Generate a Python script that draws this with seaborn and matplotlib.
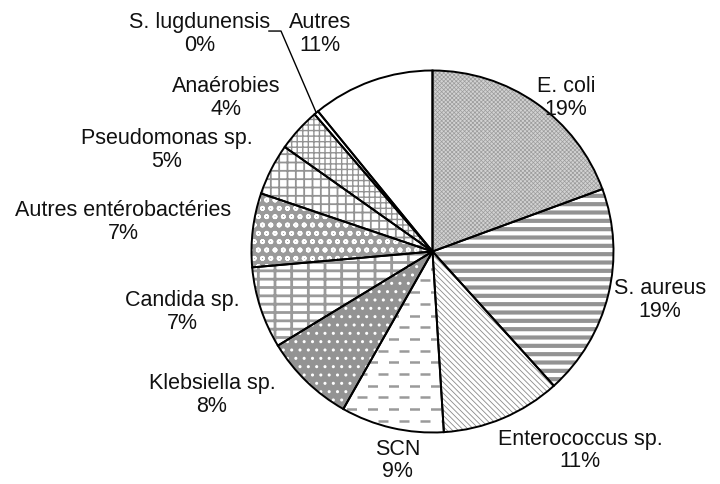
import numpy as np
import matplotlib.pyplot as plt
import seaborn as sns

# Data (percent of isolates)
categories = [
    "E. coli", "S. aureus", "Enterococcus sp.", "SCN", "Klebsiella sp.",
    "Candida sp.", "Autres entérobactéries", "Pseudomonas sp.", "Anaérobies",
    "S. lugdunensis", "Autres",
]
shares = [19.4, 18.9, 10.7, 9.2, 8.1, 7.3, 6.6, 4.6, 3.9, 0.4, 10.9]

# Styling (fill, hatch, hatch colour, hatch width)
face_colors = ["#d2d2d2", "white", "white", "white", "#939393", "white",
               "#9a9a9a", "white", "white", "white", "white"]
hatch_styles = ["xxxxxxxx", "--", "\\\\\\\\\\\\", "", "..", "--|",
                "oo", "++", "+++", "", ""]
hatch_colors = ["#9c9c9c", "#939393", "#8a8a8a", "#9a9a9a", "white", "#9a9a9a",
                "white", "#939393", "#939393", "#939393", "#939393"]
hatch_widths = [0.5, 3.0, 0.6, 1.5, 1.0, 2.0, 1.2, 1.3, 1.0, 1.0, 1.0]

# label centres in pie-radius units
label_pos = [(0.738, 0.853), (1.257, -0.262), (0.815, -1.095), (-0.191, -1.150),
             (-1.218, -0.787), (-1.384, -0.329), (-1.71, 0.169), (-1.467, 0.566),
             (-1.141, 0.854), (-1.285, 1.207), (-0.622, 1.207)]

sns.set_theme(style="white")
plt.rcParams["font.family"] = ["Liberation Sans", "DejaVu Sans"]

fig = plt.figure(figsize=(7.2, 4.85), dpi=100)
ax = fig.add_axes([0, 0, 1, 1])

# --- hatched fills ---
wedges, _ = ax.pie(shares, startangle=90, counterclock=False, colors=face_colors,
                   wedgeprops=dict(linewidth=0))
for w, h, hc, hw in zip(wedges, hatch_styles, hatch_colors, hatch_widths):
    w.set_hatch(h)
    w.set_edgecolor(hc)
    w.set_linewidth(0)
    if hasattr(w, "set_hatch_linewidth"):
        w.set_hatch_linewidth(hw)

# dashed texture for SCN (staggered grey dashes)
scn = wedges[categories.index("SCN")]
px = 1 / 181
for i, yy in enumerate(np.arange(-1.0, 0.05, 11.7 * px)):
    ax.plot([-1, 1], [yy, yy], color="#9a9a9a", linewidth=1.8,
            linestyle=(0 if i % 2 else 4.2, (4.0, 4.4)),
            solid_capstyle="butt", dash_capstyle="butt",
            clip_path=scn, zorder=1.5)

# --- outlines ---
ax.pie(shares, startangle=90, counterclock=False, colors=["none"] * len(shares),
       wedgeprops=dict(linewidth=1.4, edgecolor="black", facecolor="none", zorder=2))

# --- labels ---
for name, val, (lx, ly) in zip(categories, shares, label_pos):
    ax.text(lx, ly, f"{name}\n{round(val)}%", ha="center", va="center",
            fontsize=15.5, linespacing=1.1, color="#111111")

# leader line for the tiny slice
w = wedges[categories.index("S. lugdunensis")]
ang = np.deg2rad((w.theta1 + w.theta2) / 2)
ax.plot([-0.905, -0.837, np.cos(ang)], [1.218, 1.218, np.sin(ang)],
        color="black", linewidth=1.0)

ax.set_aspect("auto")
ax.set_xlim(-432.5 / 181, (720 - 432.5) / 181)
ax.set_ylim((252.5 - 485) / 181, 252.5 / 181)
ax.axis("off")

fig.savefig("out.png", dpi=100)
